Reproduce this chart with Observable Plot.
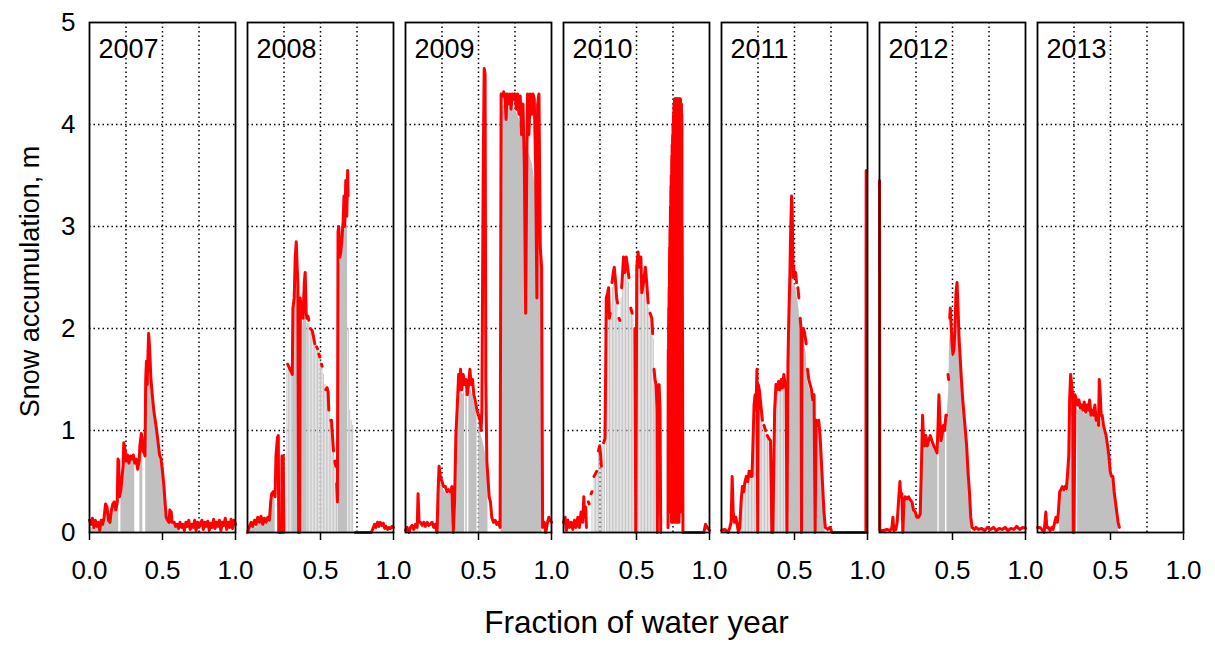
<!DOCTYPE html>
<html><head><meta charset="utf-8">
<script src="https://cdn.jsdelivr.net/npm/d3@7"></script>
<script src="https://cdn.jsdelivr.net/npm/@observablehq/plot@0.6"></script>
<style>body{margin:0;background:#fff;}</style>
</head><body><div id="chart"></div>
<script>
const years = [2007, 2008, 2009, 2010, 2011, 2012, 2013];
const xTickValues = [0.5, 1.0];
const firstTickLabel = "0.0";
const yTickValues = [0, 1, 2, 3, 4, 5];
const xGrid = [0.25, 0.5, 0.75];
const yGrid = [1, 2, 3, 4];
const xTitle = "Fraction of water year";
const yTitle = "Snow accumulation, m";

// Red line: measured snow depth [fraction, metres]; null = missing
const red2007 = [[0,0.12],[0.01,0.08],[0.02,0.14],[0.03,0.05],[0.04,0.12],[0.05,0.06],[0.06,0.1],[0.07,0.02],[0.08,0.12],[0.09,0.08],[0.1,0.15],[0.11,0.28],[0.12,0.25],[0.13,0.12],[0.14,0.1],[0.15,0.22],[0.16,0.28],[0.17,0.3],[0.18,0.22],[0.19,0.3],[0.195,0.72],[0.2,0.7],[0.205,0.35],[0.215,0.42],[0.23,0.65],[0.235,0.88],[0.245,0.8],[0.25,0.7],[0.26,0.76],[0.27,0.68],[0.28,0.75],[0.29,0.72],[0.3,0.76],[0.31,0.68],[0.32,0.72],[0.33,0.62],[0.34,0.7],[0.345,0.85],[0.355,0.97],[0.36,0.92],[0.365,0.8],[0.375,0.78],[0.38,0.75],[0.385,1.5],[0.39,1.68],[0.395,1.45],[0.4,1.72],[0.405,1.95],[0.41,1.85],[0.415,1.7],[0.42,1.52],[0.43,1.35],[0.44,1.2],[0.45,1.1],[0.46,1.0],[0.47,0.88],[0.48,0.76],[0.49,0.72],[0.5,0.6],[0.51,0.45],[0.52,0.25],[0.525,0.15],[0.535,0.12],[0.545,0.1],[0.55,0.22],[0.56,0.2],[0.565,0.1],[0.58,0.1],[0.59,0.06],[0.6,0.08],[0.61,0.04],[0.62,0.1],[0.63,0.05],[0.64,0.08],[0.65,0.02],[0.66,0.1],[0.67,0.06],[0.68,0.12],[0.69,0.03],[0.7,0.08],[0.71,0.05],[0.72,0.12],[0.73,0.02],[0.74,0.1],[0.75,0.05],[0.76,0.08],[0.77,0.12],[0.78,0.03],[0.79,0.1],[0.8,0.06],[0.81,0.11],[0.82,0.02],[0.83,0.09],[0.84,0.05],[0.85,0.13],[0.86,0.04],[0.87,0.1],[0.88,0.06],[0.89,0.12],[0.9,0.02],[0.91,0.1],[0.92,0.07],[0.93,0.14],[0.94,0.03],[0.95,0.1],[0.96,0.05],[0.97,0.13],[0.98,0.04],[0.99,0.12],[1,0.08]];
const red2008 = [[0,0],[0.011,0.05],[0.025,0.1],[0.036,0.06],[0.048,0.12],[0.059,0.08],[0.07,0.15],[0.082,0.1],[0.093,0.16],[0.105,0.08],[0.116,0.14],[0.127,0.1],[0.139,0.15],[0.15,0.12],[0.159,0.3],[0.166,0.38],[0.177,0.4],[0.189,0.35],[0.195,0.75],[0.205,0.93],[0.211,0.95],[0.214,0],[0.234,0],[0.236,0.75],[0.245,0.75],[0.25,0],[null,null],[0.275,1.65],[0.284,1.62],[0.298,1.58],[0.307,1.55],[0.311,2.2],[0.32,2.3],[0.327,2.7],[0.334,2.85],[0.34,2.6],[0.345,2.45],[0.35,0],[0.357,0],[0.361,2.3],[0.37,2.15],[0.38,2.1],[0.389,2.45],[0.395,2.55],[0.402,2.15],[0.407,2.1],[null,null],[0.414,2.12],[0.42,2.08],[null,null],[0.43,2.0],[0.443,1.98],[0.452,1.92],[0.461,1.85],[null,null],[0.473,1.82],[0.48,1.8],[null,null],[0.489,1.75],[0.495,1.72],[null,null],[0.507,1.65],[0.511,1.63],[null,null],[0.536,1.4],[0.545,1.42],[0.552,1.38],[0.557,1.2],[null,null],[0.57,1.1],[0.575,1.1],[0.582,0.95],[0.589,0.8],[null,null],[0.598,0.7],[0.605,0.65],[null,null],[0.611,0.48],[0.616,0.3],[0.62,2.95],[0.625,3.0],[0.632,2.7],[0.639,2.75],[0.648,2.9],[0.655,3.05],[0.661,3.3],[0.666,3.0],[0.673,3.45],[0.68,3.1],[0.686,3.55],[0.689,3.3],[null,null],[0.739,0],[0.848,0],[0.86,0.04],[0.87,0.08],[0.88,0.05],[0.89,0.1],[0.9,0.06],[0.91,0.1],[0.92,0.07],[0.93,0.09],[0.94,0.04],[0.95,0.06],[0.96,0.03],[0.97,0.05],[0.98,0.04],[0.99,0.06],[1,0.05]];
const red2009 = [[0,0.02],[0.011,0.05],[0.023,0],[0.034,0.05],[0.045,0.07],[0.057,0.03],[0.068,0.08],[0.08,0.05],[0.086,0.38],[0.093,0.1],[0.102,0.1],[0.114,0.07],[0.125,0.1],[0.136,0.06],[0.148,0.1],[0.159,0.07],[0.17,0.08],[0.182,0.1],[0.193,0.05],[0.205,0.08],[0.216,0],[0.223,0.4],[0.23,0.65],[0.239,0.55],[0.25,0.5],[0.261,0.45],[0.273,0.45],[0.284,0.4],[0.295,0.42],[0.307,0.4],[0.318,0.45],[0.327,0],[0.336,0.3],[0.345,0.95],[0.355,1.25],[0.364,1.55],[0.37,1.4],[0.377,1.6],[0.386,1.4],[0.395,1.55],[0.405,1.45],[0.414,1.5],[0.423,1.35],[0.432,1.45],[0.441,1.6],[0.45,1.45],[0.459,1.5],[0.468,1.35],[0.477,1.3],[0.489,1.2],[0.5,1.15],[0.511,1.1],[0.518,1.0],[0.523,1.2],[0.532,3.5],[0.539,4.55],[0.545,4.5],[0.55,1.5],[0.557,0.7],[0.564,0.55],[0.573,0.35],[0.582,0.3],[0.591,0.15],[0.602,0.1],[0.614,0.12],[0.625,0.08],[0.636,0.1],[0.648,0.05],[0.655,4.3],[0.664,4.28],[0.673,4.32],[0.682,4.25],[0.689,4.05],[0.695,4.3],[0.705,4.2],[0.714,4.3],[0.723,4.15],[0.732,4.3],[0.741,4.25],[0.75,4.3],[0.759,4.15],[0.768,4.3],[0.777,4.1],[0.786,4.28],[0.795,3.9],[0.805,4.2],[0.814,3.6],[0.823,2.15],[0.83,3.5],[0.836,4.3],[0.845,3.9],[0.855,4.3],[0.864,4.1],[0.873,4.3],[0.882,4.25],[0.891,3.6],[0.9,2.3],[0.905,4.2],[0.914,4.3],[0.923,2.8],[0.932,2.6],[0.939,0.05],[0.95,0.1],[0.961,0],[0.973,0.1],[0.982,0.15],[0.991,0.12],[1,0.1]];
const red2010 = [[0,0.1],[0.011,0.15],[0.02,0.02],[0.03,0.12],[0.041,0.05],[0.052,0.1],[0.064,0.03],[0.075,0.12],[0.086,0.05],[0.098,0.15],[0.109,0.05],[0.12,0.2],[0.132,0.1],[0.139,0.35],[0.145,0.15],[0.152,0.25],[0.157,0.05],[null,null],[0.17,0.3],[0.176,0.28],[null,null],[0.189,0.38],[0.195,0.4],[null,null],[0.209,0.55],[0.22,0.58],[0.227,0.6],[null,null],[0.239,0.8],[0.248,0.85],[0.255,0.75],[0.259,0.65],[null,null],[0.275,0.88],[0.284,0.92],[0.289,1.6],[0.293,2.3],[0.302,2.35],[0.309,2.4],[0.314,2.1],[0.32,2.15],[null,null],[0.332,2.45],[0.341,2.55],[0.348,2.6],[0.357,2.45],[0.364,2.3],[0.37,2.25],[null,null],[0.38,2.1],[0.386,2.08],[null,null],[0.398,2.4],[0.405,2.55],[0.411,2.7],[0.42,2.55],[0.43,2.7],[0.439,2.6],[0.448,2.5],[null,null],[0.461,2.2],[0.47,2.15],[null,null],[0.489,2.0],[0.495,0],[0.502,2.6],[0.511,2.75],[0.52,2.6],[0.53,2.7],[0.536,2.35],[0.543,2.4],[0.552,2.5],[0.561,2.6],[0.57,2.45],[0.58,2.25],[null,null],[0.593,2.15],[0.605,2.1],[0.611,1.95],[null,null],[0.62,1.6],[0.627,1.5],[0.634,1.45],[0.641,1.2],[0.643,0],[0.648,1.4],[0.655,1.45],[0.661,1.2],[0.666,0],[null,null],[0.716,0.05],[0.717,1.6],[0.718,1.8],[0.719,0.2],[0.72,2.0],[0.721,2.2],[0.722,0.3],[0.723,2.3],[0.724,2.4],[0.725,0.2],[0.726,2.6],[0.727,2.8],[0.728,0.3],[0.729,2.9],[0.73,3.0],[0.731,0.2],[0.732,3.1],[0.733,3.2],[0.734,0.2],[0.735,3.3],[0.736,3.4],[0.737,0.2],[0.738,3.5],[0.739,3.5],[0.74,0.1],[0.741,3.6],[0.742,3.7],[0.743,0.1],[0.744,3.8],[0.745,3.8],[0.746,0.3],[0.747,3.85],[0.748,3.9],[0.749,0.3],[0.75,4.0],[0.751,4.0],[0.752,0.2],[0.753,4.05],[0.754,4.1],[0.755,0.2],[0.756,4.15],[0.757,4.2],[0.758,0.1],[0.759,4.2],[0.76,4.25],[0.761,0.1],[0.762,4.25],[0.763,4.2],[0.764,0.2],[0.765,4.25],[0.766,4.25],[0.767,0.2],[0.768,4.2],[0.769,4.25],[0.77,0.1],[0.771,4.25],[0.772,4.2],[0.773,0.1],[0.774,4.22],[0.775,4.25],[0.776,0.3],[0.777,4.25],[0.778,4.2],[0.779,0.3],[0.78,4.25],[0.781,4.25],[0.782,0.2],[0.783,4.2],[0.784,4.25],[0.785,0.2],[0.786,4.25],[0.787,4.2],[0.788,0.1],[0.789,4.25],[0.79,4.2],[0.791,0.1],[0.792,4.25],[0.793,4.25],[0.794,0.2],[0.795,4.2],[0.796,4.25],[0.797,0.2],[0.798,4.2],[0.799,4.25],[0.8,0.2],[0.801,4.25],[0.802,4.2],[0.803,0.2],[0.804,4.2],[0.805,4.2],[0.806,0.3],[0.807,4.2],[0.808,4.2],[0.809,0.3],[0.81,4.1],[0.811,4.0],[0.812,0.3],[0.813,3.0],[0.815,2.0],[0.818,0],[0.9,0],[0.961,0],[0.973,0.08],[0.984,0.05],[1,0.02]];
const red2011 = [[0,0.02],[0.023,0.03],[0.045,0],[0.057,0.05],[0.066,0.1],[0.073,0.55],[0.08,0.2],[0.089,0.1],[0.098,0.15],[0.107,0.08],[0.116,0],[0.125,0.05],[0.134,0.3],[0.143,0.45],[0.152,0.4],[0.161,0.5],[0.17,0.55],[0.18,0.5],[0.189,0.6],[0.195,0.55],[0.202,0.6],[0.209,0.55],[0.216,0.9],[0.223,1.25],[0.23,1.35],[0.236,1.2],[0.243,1.6],[0.248,0],[0.252,1.45],[0.259,1.4],[0.266,1.3],[0.273,1.2],[0.28,1.1],[null,null],[0.291,1.05],[0.302,1.0],[null,null],[0.314,0.95],[0.325,0.92],[0.336,0.9],[0.345,0],[0.352,0],[0.364,1.2],[0.373,1.45],[0.382,1.4],[0.391,1.48],[0.4,1.4],[0.409,1.5],[0.418,1.42],[0.427,1.55],[0.436,1.45],[0.443,1.4],[0.448,0],[0.455,1.65],[0.461,2.1],[0.468,2.5],[0.473,2.9],[0.48,3.3],[0.484,3.2],[0.491,2.5],[0.495,2.6],[null,null],[0.507,2.55],[0.514,2.45],[null,null],[0.523,2.4],[0.53,2.3],[null,null],[0.539,2.1],[0.545,2.0],[0.548,0],[0.552,2.0],[0.561,2.0],[0.57,1.95],[0.58,1.85],[null,null],[0.589,1.6],[0.598,1.5],[0.607,1.45],[0.616,1.4],[0.625,1.3],[0.634,1.35],[0.641,0],[0.648,1.1],[0.657,1.05],[0.666,1.1],[0.675,0.95],[0.684,0.7],[0.693,0.45],[0.702,0.2],[0.711,0.05],[0.727,0.03],[0.743,0.05],[0.757,0],[0.989,0],[0.991,3.55]];
const red2012 = [[0,3.45],[0.002,0.02],[0.027,0.02],[0.05,0.03],[0.073,0.02],[0.085,0.05],[0.092,0.15],[0.098,0.02],[0.112,0.03],[0.121,0.1],[0.13,0.3],[0.14,0.5],[0.146,0.35],[0.153,0.38],[0.16,0],[0.167,0.3],[0.176,0.35],[0.188,0.33],[0.199,0.35],[0.21,0.32],[0.222,0.3],[0.233,0.22],[0.245,0.2],[0.256,0.15],[0.268,0.15],[0.279,0.18],[0.288,0.7],[0.295,1.15],[0.302,0.9],[0.309,0.85],[0.318,0.95],[0.327,0.85],[0.336,0.9],[0.348,0.95],[0.359,0.9],[0.371,0.85],[0.382,0.82],[0.394,0.78],[0.401,1.05],[0.407,1.35],[0.414,1.1],[0.421,0.9],[0.428,0.95],[0.437,1.05],[0.446,1.0],[0.455,1.15],[0.46,1.15],[null,null],[0.469,1.55],[0.474,1.5],[null,null],[0.481,2.1],[0.485,2.2],[0.49,2.05],[0.497,1.85],[0.503,1.75],[0.51,1.8],[0.517,2.0],[0.524,2.35],[0.531,2.45],[0.538,2.2],[0.545,1.9],[0.551,1.75],[0.561,1.5],[0.57,1.3],[0.579,1.15],[0.588,1.0],[0.597,0.85],[0.606,0.6],[0.616,0.4],[0.625,0.15],[0.634,0.05],[0.65,0.03],[0.66,0.05],[0.68,0.03],[0.7,0.04],[0.72,0.02],[0.74,0.05],[0.76,0.03],[0.78,0.05],[0.8,0.02],[0.82,0.04],[0.84,0.03],[0.86,0.05],[0.88,0.02],[0.9,0.04],[0.92,0.03],[0.94,0.06],[0.96,0.03],[0.98,0.05],[1,0.04]];
const red2013 = [[0,0.05],[0.016,0.05],[0.03,0.03],[0.045,0],[0.057,0.2],[0.064,0.05],[0.075,0.05],[0.086,0.02],[0.098,0.05],[0.107,0.03],[0.118,0.1],[0.127,0.15],[0.136,0.1],[0.143,0.2],[0.152,0.4],[0.161,0.42],[0.17,0.45],[0.18,0.42],[0.189,0.45],[0.198,0.43],[0.207,0.6],[0.214,0.75],[0.22,1.3],[0.227,1.55],[0.234,1.45],[0.241,1.35],[0.245,0],[0.25,0],[0.257,1.35],[0.266,1.3],[0.275,1.25],[0.284,1.3],[0.293,1.22],[0.302,1.25],[0.311,1.2],[0.32,1.28],[0.33,1.18],[0.339,1.25],[0.348,1.2],[0.357,1.3],[0.366,1.15],[0.375,1.2],[0.384,1.15],[0.393,1.25],[0.402,1.1],[0.411,1.15],[0.418,1.05],[0.423,1.5],[0.43,1.35],[0.436,1.15],[0.443,1.15],[0.452,1.05],[0.461,1.0],[0.47,0.95],[0.48,0.85],[0.489,0.75],[0.498,0.6],[0.507,0.55],[0.516,0.55],[0.525,0.4],[0.534,0.3],[0.543,0.2],[0.552,0.1],[0.561,0.05]];

// Grey fill: retained values [fraction, metres]; null = gap
const gray2007 = [[0,0.05],[0.05,0.04],[0.1,0.07],[0.11,0.2],[0.12,0.2],[0.13,0.08],[0.15,0.2],[0.16,0.25],[0.17,0.27],[0.18,0.2],[0.19,0.27],[0.195,0.4],[0.2,0.4],[null,null],[0.215,0.4],[0.23,0.62],[0.235,0.8],[0.245,0.75],[0.25,0.68],[0.26,0.72],[0.27,0.65],[0.28,0.72],[0.29,0.7],[0.3,0.72],[0.31,0.65],[null,null],[0.345,0.8],[0.355,0.9],[0.365,0.75],[null,null],[0.385,1.4],[0.39,1.5],[0.4,1.6],[0.41,1.6],[0.42,1.45],[0.43,1.3],[0.44,1.15],[0.45,1.05],[0.46,0.95],[0.47,0.82],[0.48,0.72],[0.49,0.68],[0.5,0.55],[0.51,0.4],[0.52,0.22],[0.53,0.1],[0.55,0.18],[0.56,0.15],[0.6,0.05],[0.62,0.03]];
const gray2008 = [[0,0.02],[0.03,0.06],[0.06,0.05],[0.09,0.1],[0.12,0.08],[0.15,0.1],[0.16,0.25],[0.18,0.35],[0.19,0.3],[null,null],[0.311,2.1],[0.32,2.2],[0.334,2.6],[0.345,2.4],[null,null],[0.361,2.2],[0.38,2.0],[0.395,2.3],[0.407,2.0],[null,null],[0.62,2.5],[0.64,2.7],[0.66,2.95],[0.68,3.0],[0.686,3.0]];
const gray2009 = [[0.223,0.35],[0.23,0.55],[0.24,0.5],[0.26,0.42],[0.28,0.38],[0.3,0.38],[0.318,0.4],[null,null],[0.34,0.3],[0.345,0.9],[0.355,1.2],[0.364,1.45],[0.377,1.45],[0.39,1.35],[0.405,1.38],[null,null],[0.413,1.4],[0.423,1.3],[null,null],[0.434,1.38],[0.45,1.4],[0.468,1.3],[0.49,1.15],[null,null],[0.502,1.1],[0.518,0.95],[0.53,0.9],[0.545,0.8],[0.557,0.6],[0.565,0.5],[null,null],[0.655,4.15],[0.68,4.2],[0.7,4.2],[0.72,4.15],[0.75,4.15],[0.78,4.05],[0.8,3.95],[0.82,3.8],[0.85,3.7],[0.87,3.6],[0.89,3.4],[0.91,3.2],[0.925,2.8],[0.934,2.5]];
const gray2011 = [[0.455,1.5],[0.461,1.9],[0.468,2.3],[0.475,2.7],[0.48,2.9],[0.484,2.9],[0.491,2.4],[0.5,2.45],[0.514,2.35],[0.53,2.2],[0.545,1.95],[null,null],[0.552,1.9],[0.57,1.85],[0.58,1.75],[0.589,1.5],[0.6,1.42],[0.616,1.35],[0.634,1.25],[null,null],[0.648,1.05],[0.666,1.0],[0.675,0.9],[0.684,0.65],[0.693,0.4],[0.702,0.15],[0.71,0.03]];
const gray2012 = [[0.167,0.28],[0.2,0.32],[0.222,0.27],[0.245,0.17],[0.268,0.13],[0.28,0.15],[0.288,0.6],[0.295,1.0],[0.302,0.85],[0.32,0.85],[0.35,0.88],[0.371,0.82],[0.394,0.75],[0.4,0.95],[null,null],[0.409,1.2],[0.414,1.05],[0.421,0.85],[0.437,1.0],[0.452,1.05],[null,null],[0.462,1.1],[0.474,1.4],[0.481,1.9],[0.49,1.95],[0.503,1.7],[0.517,1.9],[0.531,2.3],[0.545,1.85],[0.561,1.45],[0.579,1.1],[0.597,0.8],[0.616,0.35],[0.625,0.12],[0.63,0.03]];
const gray2013 = [[0.152,0.35],[0.17,0.42],[0.198,0.4],[0.207,0.55],[0.214,0.7],[0.22,1.2],[0.227,1.45],[0.234,1.35],[0.241,1.3],[null,null],[0.275,1.2],[0.3,1.2],[0.33,1.15],[0.36,1.2],[0.39,1.15],[0.418,1.02],[0.423,1.35],[0.436,1.1],[0.461,0.97],[0.48,0.82],[0.498,0.58],[0.516,0.5],[0.534,0.28],[0.552,0.08],[0.556,0.02]];

// Grey striped stems (sparse retained days) [fraction, metres]
const stems2008 = [[0.27,1.6],[0.28,1.6],[0.29,1.58],[0.3,1.55],[0.31,1.9],[0.32,2.2],[0.33,2.4],[0.34,2.4],[0.36,2.2],[0.37,2.1],[0.38,2.05],[0.39,2.3],[0.4,2.1],[0.41,2.05],[0.42,2.05],[0.43,1.98],[0.44,1.95],[0.45,1.9],[0.46,1.85],[0.47,1.8],[0.48,1.78],[0.49,1.72],[0.5,1.68],[0.51,1.62],[0.52,1.55],[0.53,1.45],[0.54,1.38],[0.55,1.35],[0.56,1.2],[0.57,1.08],[0.58,0.95],[0.59,0.8],[0.6,0.7],[0.61,0.6],[0.69,2.0],[0.7,1.2],[0.71,1.1],[0.72,1.05]];
const stems2010 = [[0.195,0.4],[0.21,0.55],[0.22,0.58],[0.23,0.6],[0.24,0.8],[0.25,0.8],[0.26,0.7],[0.27,0.85],[0.28,0.9],[0.295,2.3],[0.305,2.3],[0.315,2.1],[0.325,2.1],[0.335,2.4],[0.345,2.5],[0.355,2.45],[0.365,2.3],[0.375,2.1],[0.385,2.05],[0.395,2.3],[0.405,2.5],[0.415,2.6],[0.425,2.55],[0.435,2.6],[0.445,2.45],[0.455,2.2],[0.465,2.15],[0.475,2.1],[0.485,2.0],[0.505,2.6],[0.515,2.7],[0.525,2.6],[0.535,2.35],[0.545,2.4],[0.555,2.5],[0.565,2.5],[0.575,2.3],[0.585,2.2],[0.595,2.1],[0.605,2.05],[0.615,1.9],[0.625,1.5],[0.635,1.4],[0.645,1.35],[0.655,1.4],[0.665,1.2]];
const stems2011 = [[0.135,0.3],[0.145,0.42],[0.155,0.38],[0.165,0.48],[0.175,0.52],[0.185,0.5],[0.195,0.55],[0.205,0.55],[0.215,0.85],[0.225,1.2],[0.235,1.15],[0.255,1.4],[0.265,1.25],[0.275,1.15],[0.285,1.05],[0.295,1.0],[0.305,0.98],[0.315,0.93],[0.325,0.9],[0.335,0.88],[0.365,1.15],[0.375,1.4],[0.385,1.38],[0.395,1.42],[0.405,1.4],[0.415,1.45],[0.425,1.5],[0.435,1.42],[0.445,1.38]];

const redByYear = {2007: red2007, 2008: red2008, 2009: red2009, 2010: red2010, 2011: red2011, 2012: red2012, 2013: red2013};
const grayByYear = {2007: gray2007, 2008: gray2008, 2009: gray2009, 2011: gray2011, 2012: gray2012, 2013: gray2013};
const stemsByYear = {2008: stems2008, 2010: stems2010, 2011: stems2011};

function rows(byYear) {
  return years.flatMap(yr => (byYear[yr] || []).map(([x, y]) => ({year: yr, x: x == null ? NaN : x, y: y == null ? NaN : y})));
}
const redRows = rows(redByYear);
const grayRows = rows(grayByYear);
const stemRows = rows(stemsByYear);

const font = "'Liberation Sans', Arial, sans-serif";
const dotted = {stroke: "#000", strokeOpacity: 1, strokeWidth: 1.5, strokeDasharray: "1.5,3"};

const chart = Plot.plot({
  width: 1215,
  height: 645,
  marginLeft: 87,
  marginRight: 30,
  marginTop: 22,
  marginBottom: 113,
  style: {fontFamily: font, fontSize: "26px", background: "#fff", color: "#000"},
  fx: {domain: years, paddingInner: 0.078, paddingOuter: 0, axis: null, label: null},
  x: {domain: [0, 1], axis: null},
  y: {domain: [0, 5], axis: null},
  marks: [
    Plot.gridX(xGrid, dotted),
    Plot.gridY(yGrid, dotted),
    Plot.areaY(grayRows, {x: "x", y: "y", fx: "year", fill: "#c0c0c0"}),
    Plot.ruleX(stemRows, {x: "x", y1: 0, y2: "y", fx: "year", stroke: "#c4c4c4", strokeWidth: 1}),
    Plot.lineY(redRows, {x: "x", y: "y", fx: "year", stroke: "#ff0000", strokeWidth: 3}),
    Plot.frame({stroke: "#000", strokeWidth: 1.8}),
    Plot.text(years, {fx: d => d, frameAnchor: "top-left", dx: 9, dy: 16, text: d => String(d), fontSize: 27, textAnchor: "start", lineAnchor: "top"}),
    Plot.axisX(xTickValues, {tickSize: 8, tickPadding: 20, fontSize: 26, label: null, tickFormat: d => d.toFixed(1), strokeWidth: 1.5}),
    Plot.ruleX([{year: years[0], x: 0}], {fx: "year", x: "x", y1: 0, y2: 0, insetBottom: -8, stroke: "#000", strokeWidth: 1.5}),
    Plot.text([{year: years[0], x: 0}], {fx: "year", x: "x", frameAnchor: "bottom", lineAnchor: "top", dy: 28, text: () => firstTickLabel, fontSize: 26}),
    Plot.axisY(yTickValues, {tickSize: 0, tickPadding: 14, fontSize: 26, label: null, tickFormat: d => String(d)}),
    Plot.text([years[0]], {fx: d => d, frameAnchor: "left", textAnchor: "middle", lineAnchor: "middle", rotate: -90, dx: -59, dy: 4, text: () => yTitle, fontSize: 27}),
    Plot.text([years[3]], {fx: d => d, frameAnchor: "bottom", textAnchor: "middle", lineAnchor: "middle", dy: 90, text: () => xTitle, fontSize: 31.5})
  ]
});
document.getElementById("chart").appendChild(chart);
</script>
</body></html>
